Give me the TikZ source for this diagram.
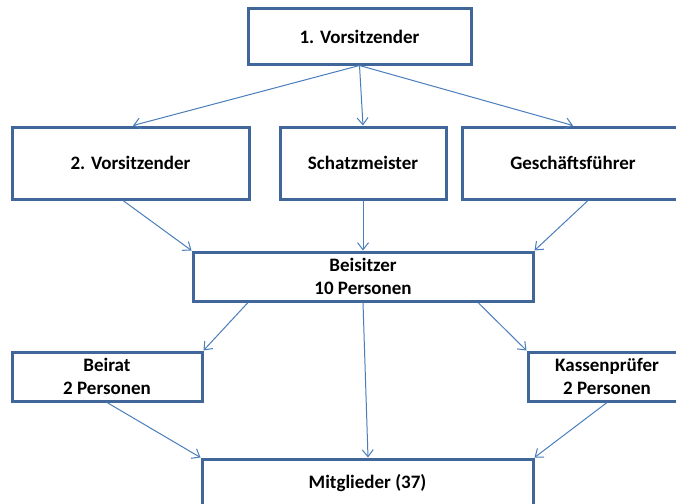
\documentclass[tikz,border=0pt]{standalone}
\usepackage{fontspec}
\setmainfont{Carlito}
\usetikzlibrary{arrows.meta}
\definecolor{boxblue}{HTML}{41679A}
\definecolor{arrowblue}{HTML}{4A7EBB}
\tikzset{
  orgbox/.style={draw=boxblue, line width=3pt, fill=white, align=center, inner sep=0pt,
    font=\fontsize{19}{23}\selectfont\bfseries, text=black},
  conn/.style={draw=arrowblue, line width=1pt, -{Straight Barb[length=7pt,width=11pt]}}
}
\begin{document}
\begin{tikzpicture}[x=1pt,y=-1pt]
\clip (0,0) rectangle (676,503);
\fill[white] (0,0) rectangle (676,503);
\node[orgbox, minimum width=223pt, minimum height=55pt] (v1) at (359.5,36.5) {1. Vorsitzender};
\node[orgbox, minimum width=237pt, minimum height=72pt] (v2) at (130.5,163) {2. Vorsitzender};
\node[orgbox, minimum width=166pt, minimum height=72pt] (sm) at (363,163) {Schatzmeister};
\node[orgbox, minimum width=222pt, minimum height=72pt] (gf) at (573,163) {Geschäftsführer};
\node[orgbox, minimum width=340pt, minimum height=49pt] (bs) at (363,276.5) {Beisitzer\\10 Personen};
\node[orgbox, minimum width=190pt, minimum height=49pt] (br) at (107,376.5) {Beirat\\2 Personen};
\node[orgbox, minimum width=158pt, minimum height=49pt] (kp) at (607,376.5) {Kassenprüfer\\2 Personen};
\node[orgbox, minimum width=331pt, minimum height=48pt] (mg) at (367.5,483) {Mitglieder (37)};
\draw[conn] (v1.south) -- ([xshift=2.5pt]v2.north);
\draw[conn] (v1.south) -- (sm.north);
\draw[conn] (v1.south) -- (gf.north);
\draw[conn] ([xshift=-7.5pt]v2.south) -- (bs.north west);
\draw[conn] (sm.south) -- (bs.north);
\draw[conn] ([xshift=15pt]gf.south) -- (bs.north east);
\draw[conn] ([xshift=-115pt]bs.south) -- (br.north east);
\draw[conn] (bs.south) -- ([xshift=0.5pt]mg.north);
\draw[conn] ([xshift=115pt]bs.south) -- (kp.north west);
\draw[conn] (br.south) -- (mg.north west);
\draw[conn] (kp.south) -- (mg.north east);
\end{tikzpicture}
\end{document}
